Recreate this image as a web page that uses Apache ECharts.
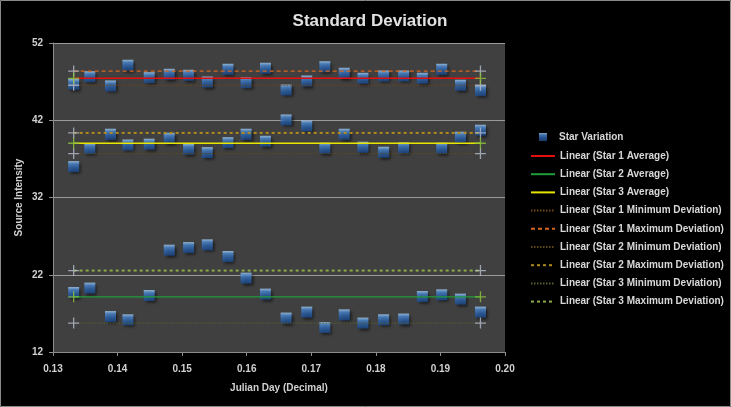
<!DOCTYPE html>
<html>
<head>
<meta charset="utf-8">
<script src="https://cdn.jsdelivr.net/npm/echarts@6/dist/echarts.min.js"></script>
<style>html,body{margin:0;padding:0;background:#000;}#c{width:731px;height:407px;}</style>
</head>
<body>
<div id="c"></div>
<script>
// Julian day (decimal) of each observation
const julianDays = [0.1332, 0.1357, 0.1389, 0.1416, 0.1449, 0.1480, 0.1510, 0.1539, 0.1571, 0.1599, 0.1629,
                    0.1661, 0.1693, 0.1721, 0.1751, 0.1780, 0.1812, 0.1843, 0.1872, 0.1902, 0.1931, 0.1962];
// Star variation – upper group
const upperGroup = [46.66, 47.64, 46.44, 49.12, 47.51, 47.95, 47.82, 46.95, 48.60, 46.86, 48.73,
                    45.92, 47.08, 48.93, 48.08, 47.43, 47.73, 47.73, 47.43, 48.60, 46.53, 45.83];
// Star variation – middle group
const middleGroup = [36.00, 38.33, 40.19, 38.80, 38.90, 39.67, 38.25, 37.81, 39.10, 40.19, 39.28,
                     42.04, 41.26, 38.38, 40.19, 38.51, 37.86, 38.42, null, 38.38, 39.80, 40.71];
// Star variation – lower group
const lowerGroup = [19.70, 20.27, 16.59, 16.17, 19.31, 25.18, 25.52, 25.87, 24.36, 21.56, 19.49,
                    16.39, 17.16, 15.17, 16.81, 15.74, 16.17, 16.26, 19.18, 19.40, 18.84, 17.16];
// Trend line extent and levels
const lineDays = [0.1332, 0.1962];
const lineNames = ['Linear (Star 1 Average)', 'Linear (Star 2 Average)', 'Linear (Star 3 Average)',
                   'Linear (Star 1 Minimum Deviation)', 'Linear (Star 1 Maximum Deviation)',
                   'Linear (Star 2 Minimum Deviation)', 'Linear (Star 2 Maximum Deviation)',
                   'Linear (Star 3 Minimum Deviation)', 'Linear (Star 3 Maximum Deviation)'];
const lineLevels = [47.43, 19.14, 39.02, 46.53, 48.37, 37.68, 40.36, 15.74, 22.54];
const yTicks = [12, 22, 32, 42, 52];
const xTicks = [0.13, 0.14, 0.15, 0.16, 0.17, 0.18, 0.19, 0.20];

const lineStyles = [
  {color: '#e01010', width: 1.5, type: 'solid'},
  {color: '#1e9e3a', width: 1.2, type: 'solid'},
  {color: '#e6e600', width: 1.5, type: 'solid'},
  {color: '#6e4418', width: 1, type: [1.5, 1.5]},
  {color: '#d8661c', width: 1.2, type: [4, 3]},
  {color: '#5e4a1e', width: 1, type: [1.5, 1.5]},
  {color: '#b08a1c', width: 2, type: [3, 3]},
  {color: '#56602e', width: 1, type: [1.5, 1.5]},
  {color: '#8aaa48', width: 2, type: [3, 3]}
];
const avgIdx = [0, 1, 2];

const points = [];
[upperGroup, middleGroup, lowerGroup].forEach(g => {
  g.forEach((v, i) => { if (v !== null) points.push([julianDays[i], v]); });
});

const plusPath = 'path://M4.4,0h1.2v10h-1.2z M0,4.4h10v1.2h-10z';
const grayCross = [], greenCross = [];
lineLevels.forEach((lv, i) => {
  lineDays.forEach(d => (avgIdx.includes(i) ? greenCross : grayCross).push([d, lv]));
});

const series = [{
  name: 'Star Variation',
  type: 'scatter',
  data: points,
  symbol: 'rect',
  symbolSize: 11,
  z: 2,
  itemStyle: {
    color: {type: 'linear', x: 0, y: 0, x2: 0, y2: 1, colorStops: [
      {offset: 0, color: '#a6d0f6'}, {offset: 0.25, color: '#4f8cd4'}, {offset: 0.6, color: '#2f67b0'}, {offset: 1, color: '#1c4888'}]},
    shadowBlur: 3, shadowColor: 'rgba(0,0,0,0.75)', shadowOffsetX: 2, shadowOffsetY: 2
  }
}];
lineNames.forEach((n, i) => {
  series.push({
    name: n, type: 'line', symbol: 'circle', symbolSize: 0, showSymbol: false, z: 3, silent: true,
    data: lineDays.map(d => [d, lineLevels[i]]),
    lineStyle: lineStyles[i],
    itemStyle: {color: 'rgba(0,0,0,0)', borderWidth: 0}
  });
});
series.push({type: 'scatter', name: 'crossGray', data: grayCross, symbol: plusPath, symbolSize: 11, z: 4,
  itemStyle: {color: '#b4bccb'}});
series.push({type: 'scatter', name: 'crossGreen', data: greenCross, symbol: plusPath, symbolSize: 11, z: 4,
  itemStyle: {color: '#8cc63c'}});

const font = 'Liberation Sans';
const legendText = {color: '#d8d8d8', fontSize: 10, fontWeight: 'bold', fontFamily: font};
const chart = echarts.init(document.getElementById('c'));
chart.setOption({
  backgroundColor: '#000',
  animation: false,
  title: {
    text: 'Standard Deviation', left: 365, top: 8, textAlign: 'center',
    textStyle: {color: '#e2e2e2', fontSize: 17, fontWeight: 'bold', fontFamily: font}
  },
  graphic: [{type: 'rect', shape: {x: 0.5, y: 0.5, width: 730, height: 406}, style: {fill: 'none', stroke: '#8a8a8a', lineWidth: 1}, silent: true}],
  grid: {left: 53, top: 43, right: 226, bottom: 55, show: true, backgroundColor: '#404040', borderWidth: 0},
  legend: [{
    orient: 'vertical', left: 534, top: 127, itemWidth: 8, itemHeight: 8,
    data: ['Star Variation'],
    textStyle: Object.assign({padding: [0, 0, 0, 7]}, legendText)
  }, {
    orient: 'vertical', left: 525, top: 146, itemWidth: 24, itemHeight: 8, itemGap: 8.2,
    data: lineNames,
    textStyle: legendText
  }],
  xAxis: {
    type: 'value', min: xTicks[0], max: xTicks[xTicks.length - 1], interval: 0.01,
    name: 'Julian Day (Decimal)', nameLocation: 'middle', nameGap: 31,
    nameTextStyle: {color: '#d0d0d0', fontSize: 10, fontWeight: 'bold', fontFamily: font},
    axisLine: {show: true, onZero: false, lineStyle: {color: '#8c8c8c'}},
    axisTick: {show: true, length: 4, lineStyle: {color: '#8c8c8c'}},
    axisLabel: {color: '#d0d0d0', fontSize: 10, fontWeight: 'bold', fontFamily: font, margin: 12,
      formatter: v => v.toFixed(2)},
    splitLine: {show: false}
  },
  yAxis: {
    type: 'value', min: yTicks[0], max: yTicks[yTicks.length - 1], interval: 10,
    name: 'Source Intensity', nameLocation: 'middle', nameGap: 29, nameRotate: 90, nameMoveOverlap: false,
    nameTextStyle: {color: '#d0d0d0', fontSize: 10, fontWeight: 'bold', fontFamily: font},
    axisLine: {show: true, lineStyle: {color: '#8c8c8c'}},
    axisTick: {show: true, length: 4, lineStyle: {color: '#8c8c8c'}},
    axisLabel: {color: '#d0d0d0', fontSize: 10, fontWeight: 'bold', fontFamily: font, margin: 10},
    splitLine: {show: true, lineStyle: {color: '#9a9a9a', width: 1}}
  },
  series: series
});
</script>
</body>
</html>
